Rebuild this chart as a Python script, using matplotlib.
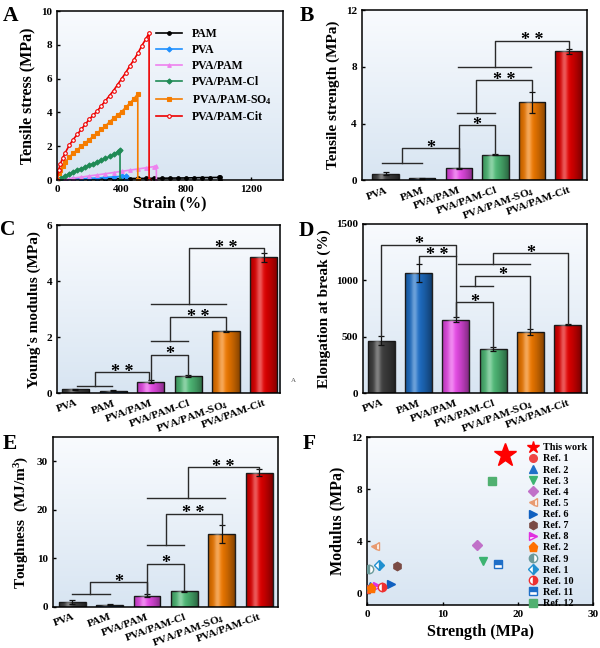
import numpy as np
import matplotlib
matplotlib.use("Agg")
import matplotlib.pyplot as plt
from matplotlib.lines import Line2D

plt.rcParams['font.family'] = ['Liberation Serif', 'DejaVu Serif']
plt.rcParams['font.weight'] = 'bold'
plt.rcParams['axes.labelweight'] = 'bold'
plt.rcParams['mathtext.fontset'] = 'custom'
plt.rcParams['mathtext.rm'] = 'Liberation Serif:bold'
plt.rcParams['mathtext.bf'] = 'Liberation Serif:bold'
plt.rcParams['mathtext.it'] = 'Liberation Serif:italic:bold'

# ---------------- data ----------------
samples = ['PVA', 'PAM', 'PVA/PAM', 'PVA/PAM-Cl', r'PVA/PAM-SO$_{4}$', 'PVA/PAM-Cit']
bar_colors = ['#404040', '#1f70c8', '#ea4cea', '#50bc78', '#f27a00', '#e40000']

strength = [0.45, 0.12, 0.85, 1.80, 5.50, 9.10]
strength_err = [0.10, 0.03, 0.03, 0.03, 0.75, 0.15]
modulus = [0.13, 0.08, 0.40, 0.62, 2.20, 4.85]
modulus_err = [0.01, 0.01, 0.05, 0.03, 0.02, 0.15]
elongation = [465, 1065, 650, 390, 540, 605]
elongation_err = [40, 80, 20, 15, 25, 5]
toughness = [1.0, 0.5, 2.3, 3.2, 15.0, 27.7]
toughness_err = [0.4, 0.1, 0.3, 0.1, 1.9, 0.8]

# stress-strain curves (strain %, stress MPa)
pam_strain = [0, 50, 100, 150, 200, 250, 300, 350, 400, 450, 500, 550, 600, 650, 700, 750, 800, 850, 900, 950, 1000, 1010, 1010]
pam_stress = [0, 0.03, 0.05, 0.06, 0.07, 0.075, 0.08, 0.085, 0.09, 0.095, 0.10, 0.105, 0.11, 0.115, 0.12, 0.125, 0.13, 0.14, 0.15, 0.155, 0.16, 0.16, 0]
pva_strain = [0, 50, 100, 150, 200, 250, 300, 350, 400, 430, 430]
pva_stress = [0, 0.03, 0.05, 0.08, 0.10, 0.13, 0.16, 0.19, 0.23, 0.26, 0]
pp_strain = [0, 50, 100, 150, 200, 250, 300, 350, 400, 450, 500, 550, 600, 615, 615]
pp_stress = [0, 0.06, 0.12, 0.18, 0.25, 0.31, 0.38, 0.45, 0.52, 0.59, 0.66, 0.73, 0.80, 0.85, 0]
cl_strain = [0, 25, 50, 75, 100, 125, 150, 175, 200, 225, 250, 275, 300, 325, 350, 375, 390, 390]
cl_stress = [0, 0.12, 0.25, 0.37, 0.48, 0.58, 0.68, 0.78, 0.88, 0.98, 1.07, 1.17, 1.28, 1.40, 1.52, 1.67, 1.80, 0]
so4_strain = [0, 10, 20, 35, 50, 75, 100, 125, 150, 175, 200, 225, 250, 275, 300, 325, 350, 375, 400, 425, 450, 475, 500, 500]
so4_stress = [0, 0.40, 0.60, 0.85, 1.05, 1.35, 1.60, 1.80, 2.00, 2.20, 2.40, 2.60, 2.80, 3.00, 3.20, 3.45, 3.65, 3.85, 4.05, 4.30, 4.55, 4.80, 5.10, 0]
cit_strain = [0, 10, 20, 35, 50, 75, 100, 125, 150, 175, 200, 225, 250, 275, 300, 325, 350, 375, 400, 425, 450, 475, 500, 525, 550, 570, 570]
cit_stress = [0, 0.60, 0.95, 1.30, 1.60, 2.05, 2.40, 2.70, 3.00, 3.30, 3.60, 3.85, 4.10, 4.40, 4.70, 5.00, 5.30, 5.65, 6.00, 6.35, 6.75, 7.10, 7.50, 7.95, 8.35, 8.70, 0]

# comparison with literature (strength MPa, modulus MPa)
ref_labels = ['This work', 'Ref. 1', 'Ref. 2', 'Ref. 3', 'Ref. 4', 'Ref. 5', 'Ref. 6', 'Ref. 7',
              'Ref. 8', 'Ref. 2', 'Ref. 9', 'Ref. 1', 'Ref. 10', 'Ref. 11', 'Ref. 12']
ref_strength = [18.3, 0.1, 0.4, 15.3, 14.6, 1.0, 3.1, 4.0, 1.3, 0.45, 0.2, 1.5, 2.0, 17.3, 16.5]
ref_modulus = [10.6, 0.30, 0.57, 2.45, 3.7, 3.66, 0.70, 2.06, 0.52, 0.44, 1.86, 2.20, 0.46, 2.27, 8.65]


def gradient_bg(ax):
    grad = np.linspace(0, 1, 256).reshape(-1, 1)
    cmap = matplotlib.colors.LinearSegmentedColormap.from_list('bg', ['#f9fbfe', '#d8e5f2'])
    ax.imshow(grad, extent=[0, 1, 0, 1], transform=ax.transAxes, cmap=cmap,
              aspect='auto', zorder=0, origin='upper')


def shade_bars(ax, bars):
    # cylinder-like shading: dark edges, light stripe left of centre
    t = np.linspace(0, 1, 64)
    dark = 0.45 * np.abs(t - 0.4) ** 1.5 / 0.6 ** 1.5
    light = 0.35 * np.exp(-((t - 0.35) / 0.12) ** 2)
    rgba = np.zeros((1, 64, 4))
    rgba[0, :, :3] = (light / (light + dark + 1e-9))[:, None]
    rgba[0, :, 3] = np.clip(light + dark, 0, 1)
    for b in bars:
        x0, y0 = b.get_x(), b.get_y()
        w, h = b.get_width(), b.get_height()
        im = ax.imshow(rgba, extent=[x0, x0 + w, y0, y0 + h], aspect='auto',
                       zorder=2.1, interpolation='bilinear')
        im.set_clip_path(b)


def style_axes(ax):
    for s in ax.spines.values():
        s.set_linewidth(1.1)
    ax.tick_params(direction='in', labelsize=8, width=1, length=2.5)


def bracket(ax, x1, y1, x2, y2, top, label):
    ax.plot([x1, x1, x2, x2], [y1, top, top, y2], color='#2a2a2a', lw=1, zorder=3)
    ax.text((x1 + x2) / 2, top, label, ha='center', va='center', fontsize=13,
            fontweight='bold', zorder=4)


def group(ax, x1, x2, y):
    ax.plot([x1, x2], [y, y], color='#2a2a2a', lw=1, zorder=3)


def bar_panel(ax, vals, errs, ylabel, ylim, yticks, xlim):
    gradient_bg(ax)
    x = np.arange(len(samples))
    bars = ax.bar(x, vals, width=0.72, color=bar_colors, edgecolor='#222222', linewidth=1,
                  zorder=2)
    shade_bars(ax, bars)
    ax.errorbar(x, vals, yerr=errs, fmt='none', ecolor='#111111', elinewidth=0.9,
                capsize=2, capthick=0.9, zorder=2.5)
    ax.set_xlim(*xlim)
    ax.set_ylim(*ylim)
    ax.set_yticks(yticks)
    ax.set_xticks(x)
    ax.set_xticklabels(samples, rotation=20, ha='right', rotation_mode='anchor',
                       fontsize=8.8, fontweight='bold')
    ax.set_ylabel(ylabel, fontsize=11)
    style_axes(ax)
    ax.tick_params(axis='x', length=0, pad=4)


fig = plt.figure(figsize=(6, 6.48), dpi=100)

# ---------------- A ----------------
axA = fig.add_axes([0.095, 0.722, 0.377, 0.261])
gradient_bg(axA)
curves = [
    (pam_strain, pam_stress, 'PAM', 'black', 'o', 'black'),
    (pva_strain, pva_stress, 'PVA', '#1e90ff', 'D', '#1e90ff'),
    (pp_strain, pp_stress, 'PVA/PAM', '#ee82ee', '^', '#ee82ee'),
    (cl_strain, cl_stress, 'PVA/PAM-Cl', '#1f8a55', 'D', '#1f8a55'),
    (so4_strain, so4_stress, r'PVA/PAM-SO$_{4}$', '#f57c00', 's', '#f57c00'),
    (cit_strain, cit_stress, 'PVA/PAM-Cit', '#ee0000', 'o', 'white'),
]
for sx, sy, lab, c, m, fc in curves:
    axA.plot(sx, sy, color=c, lw=1.2, marker=m, markersize=2.6, markerfacecolor=fc,
             markeredgecolor=c, markeredgewidth=0.8, label=lab, zorder=2)
axA.set_xlim(0, 1400)
axA.set_ylim(0, 10)
axA.set_xticks([0, 400, 800, 1200])
axA.set_yticks([0, 2, 4, 6, 8, 10])
axA.set_xlabel('Strain (%)', fontsize=11.5, labelpad=1)
axA.set_ylabel('Tensile stress (MPa)', fontsize=11.5)
style_axes(axA)
axA.legend(loc='upper right', bbox_to_anchor=(0.985, 0.95), frameon=False, fontsize=8.5,
           handlelength=2.2, labelspacing=0.36, borderaxespad=0.3)

# ---------------- B ----------------
axB = fig.add_axes([0.603, 0.722, 0.375, 0.262])
bar_panel(axB, strength, strength_err, 'Tensile strength (MPa)', (0, 12), [0, 4, 8, 12], (-0.65, 5.5))
group(axB, -0.1, 1.0, 1.18)
bracket(axB, 0.45, 1.18, 2.0, 0.92, 2.24, '*')
bracket(axB, 2.0, 0.92, 3.0, 1.86, 3.88, '*')
group(axB, 1.95, 3.0, 4.75)
bracket(axB, 2.47, 4.75, 4.0, 6.3, 7.06, '* *')
group(axB, 1.98, 3.98, 8.0)
bracket(axB, 3.0, 8.0, 5.0, 9.27, 9.84, '* *')

# ---------------- C ----------------
axC = fig.add_axes([0.095, 0.3935, 0.372, 0.259])
bar_panel(axC, modulus, modulus_err, "Young's modulus (MPa)", (0, 6), [0, 2, 4, 6], (-0.49, 5.44))
group(axC, 0.03, 0.97, 0.24)
bracket(axC, 0.51, 0.24, 1.96, 0.46, 0.75, '* *')
bracket(axC, 2.0, 0.46, 3.0, 0.66, 1.37, '*')
group(axC, 2.0, 3.0, 1.86)
bracket(axC, 2.52, 1.86, 4.0, 2.21, 2.70, '* *')
group(axC, 2.0, 4.0, 3.19)
bracket(axC, 3.03, 3.19, 5.0, 5.02, 5.17, '* *')
fig.text(0.485, 0.41, 'A', fontsize=5, color='#555555', fontweight='normal')

# ---------------- D ----------------
axD = fig.add_axes([0.605, 0.3935, 0.373, 0.261])
bar_panel(axD, elongation, elongation_err, 'Elongation at break (%)', (0, 1500), [0, 500, 1000, 1500], (-0.49, 5.51))
bracket(axD, 0.0, 505, 2.0, 670, 1314, '*')
bracket(axD, 1.0, 1150, 2.0, 1219, 1219, '* *')
bracket(axD, 2.0, 670, 3.0, 405, 803, '*')
group(axD, 2.1, 3.0, 950)
bracket(axD, 2.5, 950, 4.0, 565, 1040, '*')
group(axD, 2.07, 4.0, 1145)
bracket(axD, 3.0, 1145, 5.0, 610, 1240, '*')

# ---------------- E ----------------
axE = fig.add_axes([0.088, 0.0633, 0.375, 0.262])
bar_panel(axE, toughness, toughness_err, r'Toughness  (MJ/m$^{3}$)', (0, 35), [0, 10, 20, 30], (-0.52, 5.5))
group(axE, 0.0, 1.0, 2.6)
bracket(axE, 0.48, 2.6, 2.0, 2.7, 5.15, '*')
bracket(axE, 2.0, 2.7, 3.0, 3.4, 8.9, '*')
group(axE, 2.0, 3.0, 12.7)
bracket(axE, 2.5, 12.7, 4.0, 16.9, 19.2, '* *')
group(axE, 2.0, 4.1, 22.5)
bracket(axE, 3.1, 22.5, 5.0, 28.5, 28.8, '* *')

# ---------------- F ----------------
axF = fig.add_axes([0.612, 0.0664, 0.377, 0.259])
gradient_bg(axF)
ref_styles = [
    dict(marker='*', color='#ff0000', ms=17, fs='full'),
    dict(marker='o', color='#ee4444', ms=5.5, fs='full'),
    dict(marker='^', color='#1f6fc8', ms=6, fs='full'),
    dict(marker='v', color='#3cb371', ms=6, fs='full'),
    dict(marker='D', color='#c070c8', ms=5, fs='full'),
    dict(marker='<', color='#e89a70', ms=6, fs='left'),
    dict(marker='>', color='#1060c0', ms=6, fs='full'),
    dict(marker='h', color='#7a4a44', ms=6, fs='full'),
    dict(marker='>', color='#e030e0', ms=6, fs='top'),
    dict(marker='p', color='#ff7000', ms=6.5, fs='full'),
    dict(marker='o', color='#6a9a9a', ms=6, fs='left'),
    dict(marker='D', color='#2090d0', ms=5, fs='right'),
    dict(marker='o', color='#ee3030', ms=6, fs='right'),
    dict(marker='s', color='#1f6fc8', ms=5.5, fs='top'),
    dict(marker='s', color='#50b070', ms=5.5, fs='full'),
]
handles = []
for sx, sy, lab, st in zip(ref_strength, ref_modulus, ref_labels, ref_styles):
    axF.plot([sx], [sy], linestyle='none', marker=st['marker'], markersize=st['ms'],
             color=st['color'], markerfacecolor=st['color'], markerfacecoloralt='white',
             markeredgecolor=st['color'], fillstyle=st['fs'], zorder=3)
    handles.append(Line2D([], [], linestyle='none', marker=st['marker'],
                          markersize=9 if st['marker'] == '*' else st['ms'],
                          color=st['color'], markerfacecolor=st['color'],
                          markerfacecoloralt='white', markeredgecolor=st['color'],
                          fillstyle=st['fs'], label=lab))
axF.set_xlim(0, 30)
axF.set_ylim(-0.9, 12)
axF.set_xticks([0, 10, 20, 30])
axF.set_yticks([0, 4, 8, 12])
axF.set_xlabel('Strength (MPa)', fontsize=11.5)
axF.set_ylabel('Modulus (MPa)', fontsize=11.5)
style_axes(axF)
axF.legend(handles=handles, loc='upper right', frameon=False, fontsize=7.3,
           handlelength=1.0, handletextpad=0.5, labelspacing=0.2, borderaxespad=0.2)

# panel letters
for lab, x, y in [('A', 0.005, 0.968), ('B', 0.5, 0.968), ('C', 0.0, 0.638),
                  ('D', 0.497, 0.636), ('E', 0.005, 0.307), ('F', 0.505, 0.307)]:
    fig.text(x, y, lab, fontsize=15.5, fontweight='bold')

fig.savefig('out.png', dpi=100)
